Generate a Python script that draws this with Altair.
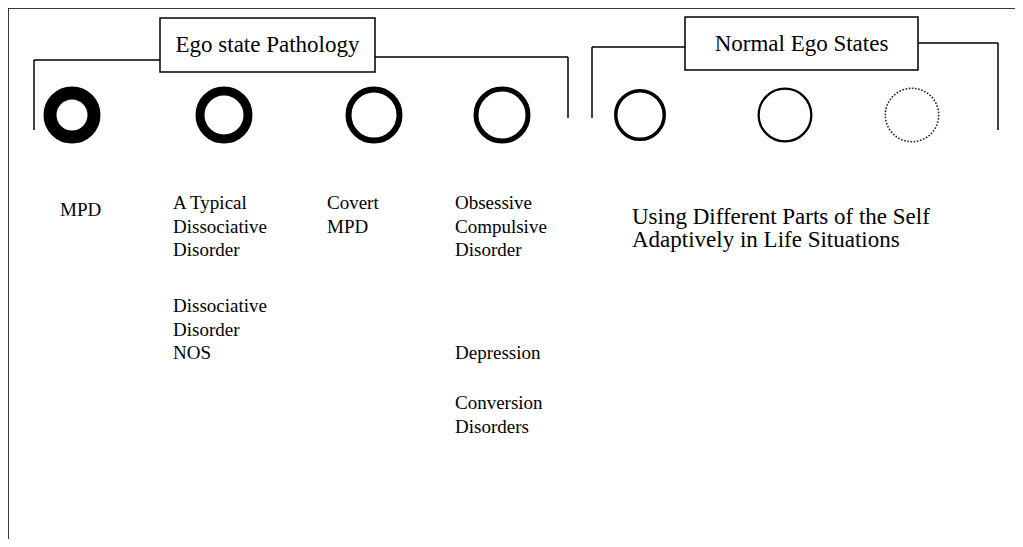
import altair as alt
import pandas as pd

# ---- data ----
circle_x = [72, 224, 374, 502, 640, 785, 912]
circle_y = [115, 115, 115, 115, 115, 115, 115]
circle_d = [57, 57, 57, 57, 52, 55, 55]
circle_w = [13, 9, 6, 5, 3.5, 2.3, 1.6]
circle_dotted = [False, False, False, False, False, False, True]

seg_x1 = [8, 8, 34, 34, 375, 568, 592, 592, 918, 998]
seg_y1 = [8, 8, 60, 60, 57, 57, 47, 47, 43, 43]
seg_x2 = [1015, 8, 160, 34, 568, 568, 685, 592, 998, 998]
seg_y2 = [8, 539, 60, 130, 57, 118, 47, 118, 43, 130]

box_x1 = [160, 685]
box_x2 = [375, 918]
box_y1 = [18, 17]
box_y2 = [72, 70]
box_label = ["Ego state Pathology", "Normal Ego States"]

text_labels = [
    "MPD",
    "A Typical", "Dissociative", "Disorder", "Dissociative", "Disorder", "NOS",
    "Covert", "MPD",
    "Obsessive", "Compulsive", "Disorder", "Depression", "Conversion", "Disorders",
]
text_x = [60, 173, 173, 173, 173, 173, 173, 327, 327, 455, 455, 455, 455, 455, 455]
text_y = [210, 203, 227, 250, 306, 330, 353, 203, 227, 203, 227, 250, 353, 403, 427]

note_labels = ["Using Different Parts of the Self", "Adaptively in Life Situations"]
note_x = [632, 632]
note_y = [217, 240]

W, H = 1007, 531
xs = alt.Scale(domain=[8, 8 + W], range=[0, W])
ys = alt.Scale(domain=[8, 8 + H], range=[0, H])
X = lambda f: alt.X(f, scale=xs, axis=None)
Y = lambda f: alt.Y(f, scale=ys, axis=None)

segs = pd.DataFrame({"x": seg_x1, "y": seg_y1, "x2": seg_x2, "y2": seg_y2})
rules = alt.Chart(segs).mark_rule(color="black", strokeWidth=1.5).encode(
    x=X("x:Q"), y=Y("y:Q"), x2="x2:Q", y2="y2:Q",
)

boxes_df = pd.DataFrame({"x": box_x1, "x2": box_x2, "y": box_y1, "y2": box_y2,
                         "label": box_label,
                         "cx": [(a + b) / 2 for a, b in zip(box_x1, box_x2)],
                         "cy": [(a + b) / 2 for a, b in zip(box_y1, box_y2)]})
boxes = alt.Chart(boxes_df).mark_rect(fill="white", stroke="black", strokeWidth=1.5).encode(
    x=X("x:Q"), y=Y("y:Q"), x2="x2:Q", y2="y2:Q",
)
box_text = alt.Chart(boxes_df).mark_text(
    font="Liberation Serif", fontSize=23, align="center", baseline="middle", color="black"
).encode(x=X("cx:Q"), y=Y("cy:Q"), text="label:N")

circ = pd.DataFrame({
    "x": circle_x, "y": circle_y,
    "size": [(d - w) ** 2 for d, w in zip(circle_d, circle_w)],
    "w": circle_w, "dotted": circle_dotted,
})
solid = alt.Chart(circ[~circ["dotted"]]).mark_point(
    shape="circle", filled=False, color="black", opacity=1
).encode(
    x=X("x:Q"), y=Y("y:Q"),
    size=alt.Size("size:Q", scale=None, legend=None),
    strokeWidth=alt.StrokeWidth("w:Q", scale=None, legend=None),
)
dotted = alt.Chart(circ[circ["dotted"]]).mark_point(
    shape="circle", filled=False, color="#222", opacity=1, strokeDash=[1.6, 1.6]
).encode(
    x=X("x:Q"), y=Y("y:Q"),
    size=alt.Size("size:Q", scale=None, legend=None),
    strokeWidth=alt.StrokeWidth("w:Q", scale=None, legend=None),
)

txt = pd.DataFrame({"label": text_labels, "x": text_x, "y": text_y})
texts = alt.Chart(txt).mark_text(
    font="Liberation Serif", fontSize=19, align="left", baseline="middle", color="black"
).encode(x=X("x:Q"), y=Y("y:Q"), text="label:N")

notes = pd.DataFrame({"label": note_labels, "x": note_x, "y": note_y})
note_text = alt.Chart(notes).mark_text(
    font="Liberation Serif", fontSize=23, align="left", baseline="middle", color="black"
).encode(x=X("x:Q"), y=Y("y:Q"), text="label:N")

chart = alt.layer(rules, boxes, box_text, solid, dotted, texts, note_text).properties(
    width=W, height=H, padding=0, autosize=alt.AutoSizeParams(type="none")
).configure_view(stroke=None).configure(background="white")

chart.save("out.html", embed_options={"renderer": "svg", "actions": False})
